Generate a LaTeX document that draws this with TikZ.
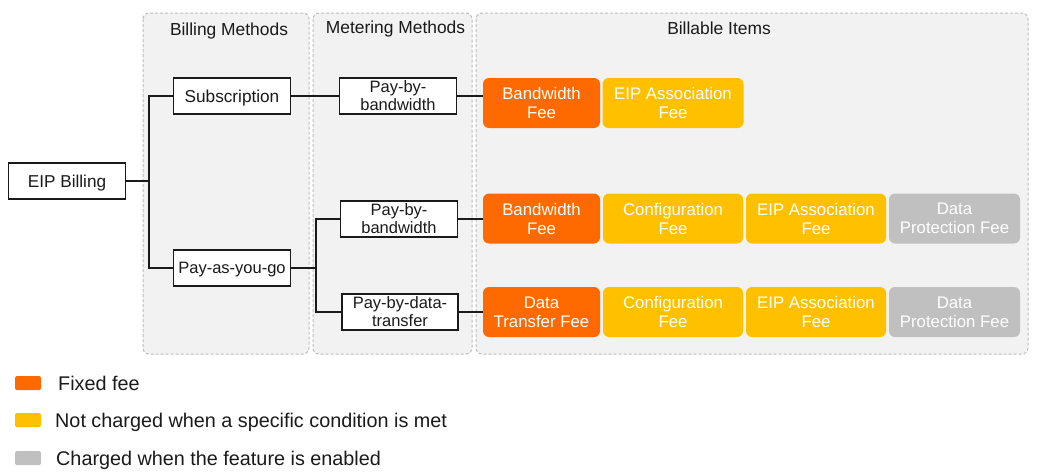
\documentclass[tikz,border=0pt]{standalone}
\usepackage{fontspec}
\setmainfont{Liberation Sans}
\definecolor{orangefee}{HTML}{FF6A00}
\definecolor{yellowfee}{HTML}{FFC000}
\definecolor{grayfee}{HTML}{C0C0C0}
\definecolor{panelfill}{HTML}{F2F2F2}
\definecolor{panelline}{HTML}{BDBDBD}
\definecolor{ink}{HTML}{1A1A1A}
\tikzset{
  panel/.style={fill=panelfill, draw=panelline, line width=1pt, dash pattern=on 3pt off 2pt, rounded corners=6pt},
  ptitle/.style={font=\fontsize{17.4}{19}\selectfont, text=ink, inner sep=0pt, anchor=base},
  wbox/.style={draw=ink, fill=white, line width=1.3pt, inner sep=0pt, align=center, text=ink, minimum height=36pt},
  wone/.style={wbox, font=\fontsize{17.2}{18}\selectfont, text height=12.3pt, text depth=0pt},
  wtwo/.style={wbox, font=\fontsize{16.5}{18}\selectfont},
  fee/.style={rounded corners=6pt, inner sep=0pt, align=center, text=white, font=\fontsize{16.8}{19}\selectfont, minimum height=50pt},
  ofee/.style={fee, fill=orangefee},
  yfee/.style={fee, fill=yellowfee},
  gfee/.style={fee, fill=grayfee},
  conn/.style={draw=ink, line width=1.3pt},
  legsq/.style={rounded corners=1.5pt, minimum width=26pt, minimum height=14pt, inner sep=0pt},
  legtxt/.style={anchor=base west, inner sep=0pt, font=\fontsize{19.8}{21}\selectfont, text=ink},
}
\begin{document}
\begin{tikzpicture}[x=1pt, y=-1pt]
\useasboundingbox (0,0) rectangle (1037,472);
% panels
\draw[panel] (143,13) rectangle (309,354);
\draw[panel] (313,13) rectangle (472,354);
\draw[panel] (476,13) rectangle (1028,354);
\node[ptitle] (t1) at (229,35) {Billing Methods};
\node[ptitle] (t2) at (395.5,33) {Metering Methods};
\node[ptitle] (t3) at (719,34) {Billable Items};
% white nodes
\node[wone, minimum width=117pt] (eip) at (67,181) {EIP Billing};
\node[wone, minimum width=117pt] (sub) at (232,96) {Subscription};
\node[wone, minimum width=117pt, font=\fontsize{16.5}{18}\selectfont, text height=11.8pt] (payg) at (232,268) {Pay-as-you-go};
\node[wtwo, minimum width=117pt] (pbb1) at (398,96) {Pay-by-\\bandwidth};
\node[wtwo, minimum width=117pt] (pbb2) at (399,219) {Pay-by-\\bandwidth};
\node[wtwo, minimum width=116pt] (pbd) at (400,312) {Pay-by-data-\\transfer};
% fee boxes
\node[ofee, minimum width=117pt] (bw1) at (541.5,103) {Bandwidth\\Fee};
\node[yfee, minimum width=141pt] (ea1) at (673,103) {EIP Association\\Fee};
\node[ofee, minimum width=117pt] (bw2) at (541.5,218.5) {Bandwidth\\Fee};
\node[yfee, minimum width=140pt] (cf2) at (673,218.5) {Configuration\\Fee};
\node[yfee, minimum width=140pt] (ea2) at (816,218.5) {EIP Association\\Fee};
\node[gfee, minimum width=131pt] (dp2) at (954.5,218.5) {Data\\Protection Fee};
\node[ofee, minimum width=117pt] (dt3) at (541.5,312) {Data\\Transfer Fee};
\node[yfee, minimum width=140pt] (cf3) at (673,312) {Configuration\\Fee};
\node[yfee, minimum width=140pt] (ea3) at (816,312) {EIP Association\\Fee};
\node[gfee, minimum width=131pt] (dp3) at (954.5,312) {Data\\Protection Fee};
% connectors
\coordinate (j1) at (149,181);
\coordinate (j2) at (316,268);
\draw[conn] (eip.east) -- (j1);
\draw[conn] (sub.west) -| (j1) |- (payg.west);
\draw[conn] (sub.east) -- (pbb1.west);
\draw[conn] (payg.east) -- (j2);
\draw[conn] (pbb2.west) -| (j2) |- (pbd.west);
\draw[conn] (pbb1.east) -- (pbb1.east -| bw1.west);
\draw[conn] (pbb2.east) -- (pbb2.east -| bw2.west);
\draw[conn] (pbd.east) -- (pbd.east -| dt3.west);
% legend
\node[legsq, fill=orangefee] (l1) at (28,383) {};
\node[legsq, fill=yellowfee] (l2) at (28,420) {};
\node[legsq, fill=grayfee] (l3) at (28,458) {};
\node[legtxt] (lt1) at (58,390) {Fixed fee};
\node[legtxt] (lt2) at (55,427) {Not charged when a specific condition is met};
\node[legtxt] (lt3) at (56,465) {Charged when the feature is enabled};
\end{tikzpicture}
\end{document}
